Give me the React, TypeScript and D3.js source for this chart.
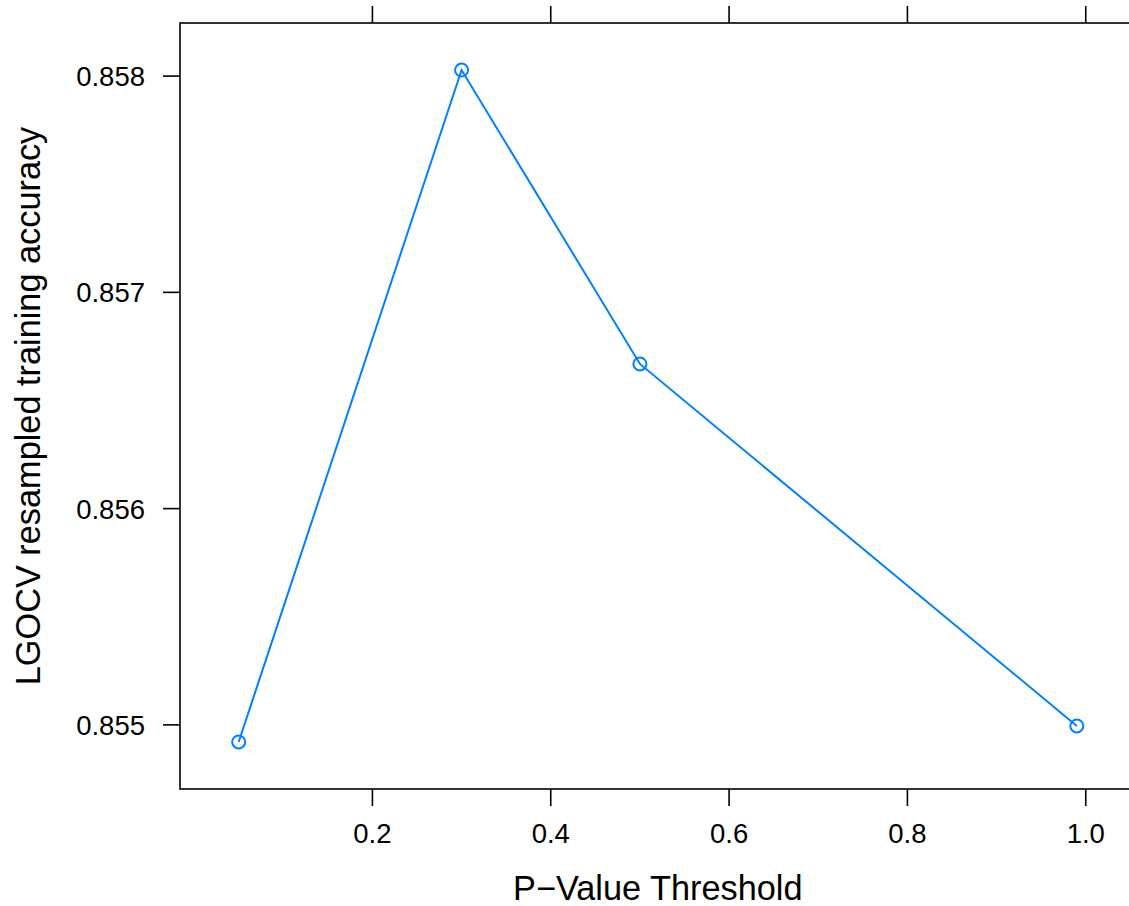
import React from "react";
import * as d3 from "d3";

const thresholds = [0.05, 0.3, 0.5, 0.99];
const accuracy = [0.854921, 0.858028, 0.856669, 0.854995];
const xTicks = [0.2, 0.4, 0.6, 0.8, 1.0];
const yTicks = [0.855, 0.856, 0.857, 0.858];
const xLabel = "P\u2212Value Threshold";
const yLabel = "LGOCV resampled training accuracy";

const W = 1129;
const H = 906;
const left = 180;
const right = 1135.5;
const top = 23;
const bottom = 789;
const col = "#0080ff";
const font = "Liberation Sans, Arial, Helvetica, sans-serif";

export default function App() {
  const xr = d3.extent(thresholds) as [number, number];
  const yr = d3.extent(accuracy) as [number, number];
  const px = (xr[1] - xr[0]) * 0.07;
  const py = (yr[1] - yr[0]) * 0.07;
  const x = d3.scaleLinear().domain([xr[0] - px, xr[1] + px]).range([left, right]);
  const y = d3.scaleLinear().domain([yr[0] - py, yr[1] + py]).range([bottom, top]);
  const pts = thresholds.map((t, i) => [t, accuracy[i]] as [number, number]);
  const line = d3.line<[number, number]>().x((d) => x(d[0])).y((d) => y(d[1]));
  const tl = 17;
  return (
    <svg width={W} height={H} style={{ position: "absolute", left: 0, top: 0, background: "#fff" }}>
      <rect x={0} y={0} width={W} height={H} fill="#fff" />
      <rect x={left} y={top} width={right - left} height={bottom - top} fill="none" stroke="#000" strokeWidth={1.6} />
      {xTicks.map((t) => (
        <g key={"x" + t}>
          <line x1={x(t)} x2={x(t)} y1={bottom} y2={bottom + tl} stroke="#000" strokeWidth={1.6} />
          <line x1={x(t)} x2={x(t)} y1={top} y2={top - tl} stroke="#000" strokeWidth={1.6} />
          <text x={x(t)} y={843} textAnchor="middle" fontFamily={font} fontSize={27.5} fill="#000">
            {t.toFixed(1)}
          </text>
        </g>
      ))}
      {yTicks.map((t) => (
        <g key={"y" + t}>
          <line x1={left} x2={left - tl} y1={y(t)} y2={y(t)} stroke="#000" strokeWidth={1.6} />
          <text x={145} y={y(t)} dy="0.36em" textAnchor="end" fontFamily={font} fontSize={27.5} fill="#000">
            {t.toFixed(3)}
          </text>
        </g>
      ))}
      <path d={line(pts) || ""} fill="none" stroke={col} strokeWidth={2} />
      {pts.map((p, i) => (
        <circle key={i} cx={x(p[0])} cy={y(p[1])} r={6.5} fill="none" stroke={col} strokeWidth={2} />
      ))}
      <text x={(left + right) / 2} y={900} textAnchor="middle" fontFamily={font} fontSize={34.3} fill="#000">
        {xLabel}
      </text>
      <text
        transform={`translate(40,${(top + bottom) / 2}) rotate(-90)`}
        textAnchor="middle"
        fontFamily={font}
        fontSize={34.3}
        fill="#000"
      >
        {yLabel}
      </text>
    </svg>
  );
}
